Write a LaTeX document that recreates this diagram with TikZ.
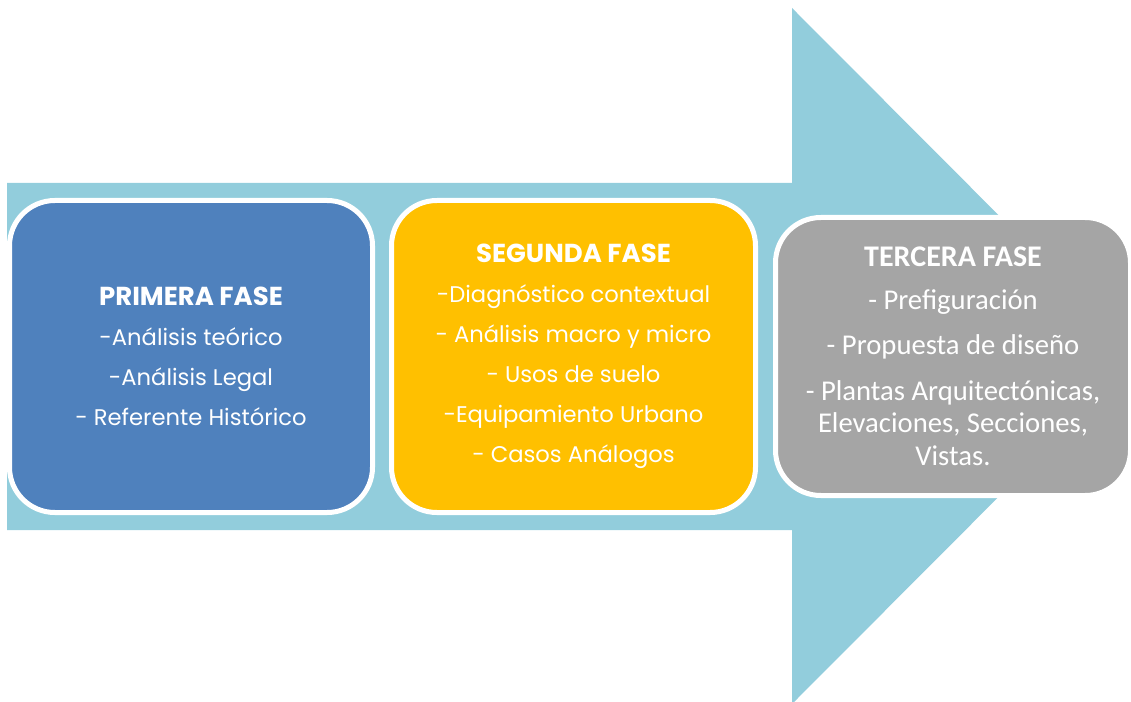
\documentclass[tikz,border=0pt]{standalone}
\usepackage{fontspec}
\newfontfamily\geofont{Poppins}
\newfontfamily\calfont{Carlito}
\definecolor{arrowblue}{HTML}{92CDDC}
\definecolor{boxblue}{HTML}{4F81BD}
\definecolor{boxyellow}{HTML}{FFC000}
\definecolor{boxgray}{HTML}{A5A5A5}
\newcommand{\geotitle}[1]{{\fontsize{19.5}{30}\selectfont\bfseries #1}}
\newcommand{\caltitle}[1]{{\fontsize{22.5}{25}\selectfont\bfseries #1}}
\tikzset{
  phase/.style={draw=white, line width=3.75pt, rounded corners=34pt, inner sep=0pt,
    align=center, text=white, minimum height=234pt},
  geotext/.style={font=\geofont\fontsize{17}{30}\selectfont},
  caltext/.style={font=\calfont\fontsize{21.5}{24.5}\selectfont},
}
\begin{document}
\begin{tikzpicture}[x=0.75pt,y=-0.75pt]
\useasboundingbox (0,0) rectangle (1131,702);
\clip (0,0) rectangle (1131,702);
\fill[arrowblue] (7,183) -- (792,183) -- (792,8) -- (1139,356) -- (792,704) -- (792,530) -- (7,530) -- cycle;
\node[phase, fill=boxblue, minimum width=272.25pt, geotext] (p1) at (191,356.5)
  {\geotitle{PRIMERA FASE}\\-Análisis teórico\\-Análisis Legal\\- Referente Histórico};
\node[phase, fill=boxyellow, minimum width=273pt, geotext] (p2) at (573.5,356.5)
  {\geotitle{SEGUNDA FASE}\\-Diagnóstico contextual\\- Análisis macro y micro\\- Usos de suelo\\-Equipamiento Urbano\\- Casos Análogos};
\node[phase, fill=boxgray, minimum width=266.25pt, minimum height=208.5pt, caltext] (p3) at (953,356.5)
  {\caltitle{TERCERA FASE}\\[7.5pt]- Prefiguración\\[9.5pt]- Propuesta de diseño\\[9.5pt]- Plantas Arquitectónicas,\\Elevaciones, Secciones,\\Vistas.};
\end{tikzpicture}
\end{document}
